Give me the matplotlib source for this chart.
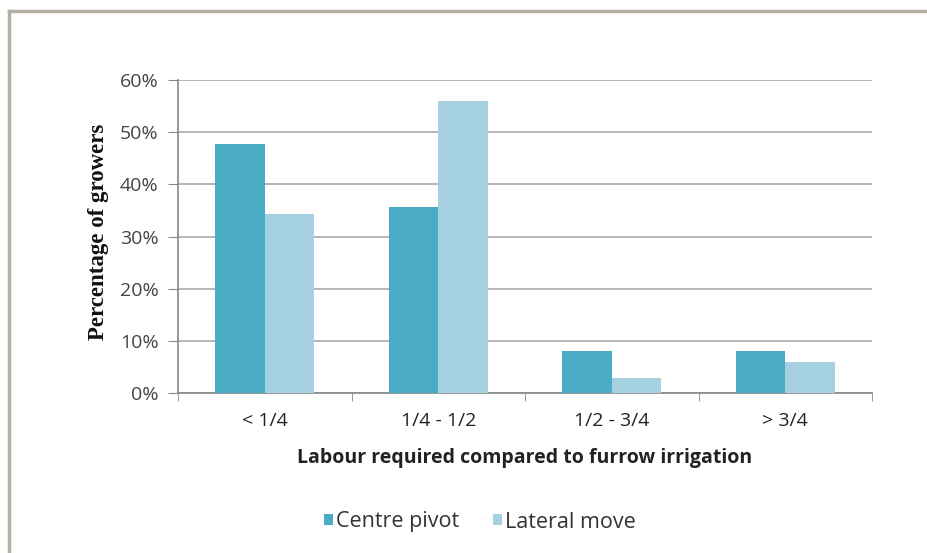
import numpy as np
import matplotlib
matplotlib.use("Agg")
import matplotlib.pyplot as plt
from matplotlib.lines import Line2D
from matplotlib.ticker import FuncFormatter

categories = ["< 1/4", "1/4 - 1/2", "1/2 - 3/4", "> 3/4"]
centre_pivot = [47.8, 35.7, 8.0, 8.0]
lateral_move = [34.4, 56.0, 2.9, 6.0]
y_ticks = [0, 10, 20, 30, 40, 50, 60]

C_PIVOT = "#4BACC6"
C_LATERAL = "#A5D1E1"
GRID_C = "#B0B0B0"

fig = plt.figure(figsize=(9.28, 5.53), dpi=100)
ax = fig.add_axes([178 / 928, 1 - 393 / 553, (872 - 178) / 928, (393 - 80) / 553])

x = np.arange(len(categories))
w = 0.286
ax.bar(x - w / 2, centre_pivot, w, color=C_PIVOT, label="Centre pivot", zorder=3)
ax.bar(x + w / 2, lateral_move, w, color=C_LATERAL, label="Lateral move", zorder=3)

ax.set_xlim(-0.5, len(categories) - 0.5)
ax.set_ylim(0, 60)
ax.set_yticks(y_ticks)
ax.yaxis.set_major_formatter(FuncFormatter(lambda v, p: f"{v:.0f}%"))
ax.yaxis.grid(True, color=GRID_C, linewidth=1.3, zorder=0)

ax.set_xticks(x)
ax.set_xticklabels(categories)
ax.set_xticks(np.arange(len(categories) + 1) - 0.5, minor=True)
ax.tick_params(axis="x", which="major", length=0, pad=14, labelsize=14, colors="#222222")
ax.tick_params(axis="x", which="minor", length=6, color="#888888", direction="out")
ax.tick_params(axis="y", length=7, color="#888888", labelsize=14, colors="#444444", pad=7)
for lab in ax.get_xticklabels() + ax.get_yticklabels():
    lab.set_fontfamily("Open Sans")

for s in ["top", "right"]:
    ax.spines[s].set_visible(False)
for s in ["left", "bottom"]:
    ax.spines[s].set_color("#888888")
    ax.spines[s].set_linewidth(1.2)

fig.text(525 / 928, 1 - 458 / 553, "Labour required compared to furrow irrigation",
         ha="center", va="center", fontsize=14, fontweight="bold",
         family="Open Sans", color="#222222")
fig.text(98.5 / 928, 1 - 232 / 553, "Percentage of growers", rotation=90,
         ha="center", va="center", fontsize=16.5, fontweight="bold",
         family="Liberation Serif", color="#111111")

fig.legend(loc="center", bbox_to_anchor=(480 / 928, 1 - 522 / 553), ncol=2,
           frameon=False, handlelength=0.4, handleheight=0.4,
           handletextpad=0.15, columnspacing=1.6,
           prop={"family": "Open Sans", "size": 15.5}, labelcolor="#333333")

# outer frame (top and left edges only)
fig.add_artist(Line2D([9.5 / 928, 1], [1 - 10.5 / 553, 1 - 10.5 / 553],
                      transform=fig.transFigure, color="#B5AFA5", linewidth=2.5))
fig.add_artist(Line2D([9.5 / 928, 9.5 / 928], [0, 1 - 10.5 / 553],
                      transform=fig.transFigure, color="#B5AFA5", linewidth=2.5))

fig.savefig("out.png", dpi=100)
